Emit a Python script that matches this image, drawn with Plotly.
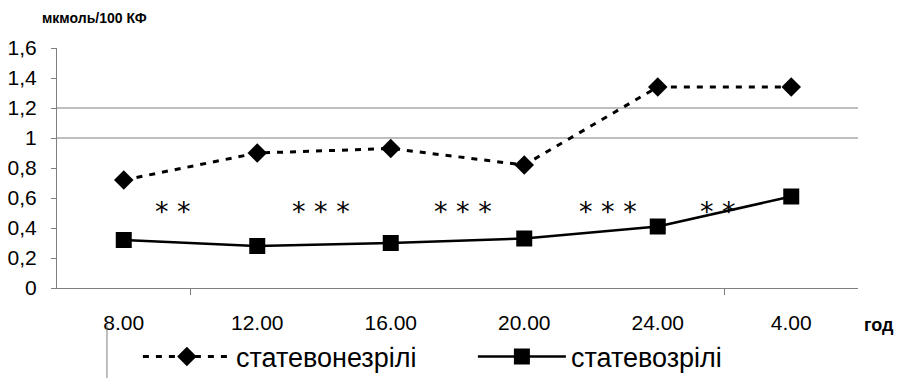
import plotly.graph_objects as go

categories = ["8.00", "12.00", "16.00", "20.00", "24.00", "4.00"]
immature = [0.72, 0.90, 0.93, 0.82, 1.34, 1.34]
mature = [0.32, 0.28, 0.30, 0.33, 0.41, 0.61]
series_names = ["статевонезрілі", "статевозрілі"]
sig_labels = ["* *", "* * *", "* * *", "* * *", "* *", "* *"]
sig_x = [0.37, 1.48, 2.54, 3.63, 4.45, 5.55]
sig_y = [0.53, 0.53, 0.53, 0.53, 0.53, 0.69]
y_ticks = [0, 0.2, 0.4, 0.6, 0.8, 1, 1.2, 1.4, 1.6]
y_tick_text = ["0", "0,2", "0,4", "0,6", "0,8", "1", "1,2", "1,4", "1,6"]
grid_values = [1.0, 1.2]

FONT = "Liberation Sans, Arial, sans-serif"
GRAY = "#7f7f7f"

fig = go.Figure()
fig.add_trace(go.Scatter(
    x=list(range(len(categories))), y=immature, name=series_names[0],
    mode="lines+markers",
    line=dict(color="black", width=3, dash="6px,7px"),
    marker=dict(symbol="diamond", size=15, color="black"),
))
fig.add_trace(go.Scatter(
    x=list(range(len(categories))), y=mature, name=series_names[1],
    mode="lines+markers",
    line=dict(color="black", width=2.5),
    marker=dict(symbol="square", size=16, color="black"),
))

for g in grid_values:
    fig.add_shape(type="line", xref="paper", yref="y", x0=0, x1=1, y0=g, y1=g,
                  line=dict(color=GRAY, width=1), layer="below")
for b in [0.5, 4.5]:
    fig.add_shape(type="line", xref="x", yref="paper", x0=b, x1=b, y0=0, y1=-0.03,
                  line=dict(color=GRAY, width=1))
fig.add_shape(type="line", xref="paper", yref="paper", x0=0.0624, x1=0.0624, y0=-0.154, y1=-0.375,
              line=dict(color=GRAY, width=1))

for t, xx, yy in zip(sig_labels, sig_x, sig_y):
    fig.add_annotation(x=xx, y=yy, xref="x", yref="y", text=t, showarrow=False,
                       font=dict(family="DejaVu Sans", size=27, color="black"), yshift=-3)

fig.add_annotation(xref="paper", yref="paper", x=-0.021, y=1.125, xanchor="left", yanchor="middle",
                   text="<b>мкмоль/100 КФ</b>", showarrow=False,
                   font=dict(family=FONT, size=14, color="black"))
fig.add_annotation(xref="paper", yref="paper", x=1.005, y=-0.155, xanchor="left", yanchor="middle",
                   text="<b>год</b>", showarrow=False,
                   font=dict(family=FONT, size=18, color="black"))

fig.update_layout(
    width=897, height=378,
    margin=dict(l=57, r=39, t=48, b=90, autoexpand=False),
    paper_bgcolor="white", plot_bgcolor="white",
    font=dict(family=FONT, size=21, color="black"),
    showlegend=True,
    legend=dict(orientation="h", x=0.101, y=-0.2875, xanchor="left", yanchor="middle",
                font=dict(family=FONT, size=27, color="black"),
                itemwidth=88, tracegroupgap=0, entrywidth=232),
    xaxis=dict(range=[-0.5, 5.5], tickmode="array", tickvals=list(range(len(categories))),
               ticktext=categories, showgrid=False, zeroline=False, showline=True,
               linecolor=GRAY, linewidth=1, ticks="", ticklabelstandoff=16),
    yaxis=dict(range=[0, 1.6], tickmode="array", tickvals=y_ticks, ticktext=y_tick_text,
               showgrid=False, zeroline=False, showline=True, linecolor=GRAY, linewidth=1,
               ticks="outside", ticklen=5, tickcolor=GRAY, ticklabelstandoff=10),
)

fig.write_html("out.html", config={"displayModeBar": False},
               post_script="document.body.style.margin='0';")
